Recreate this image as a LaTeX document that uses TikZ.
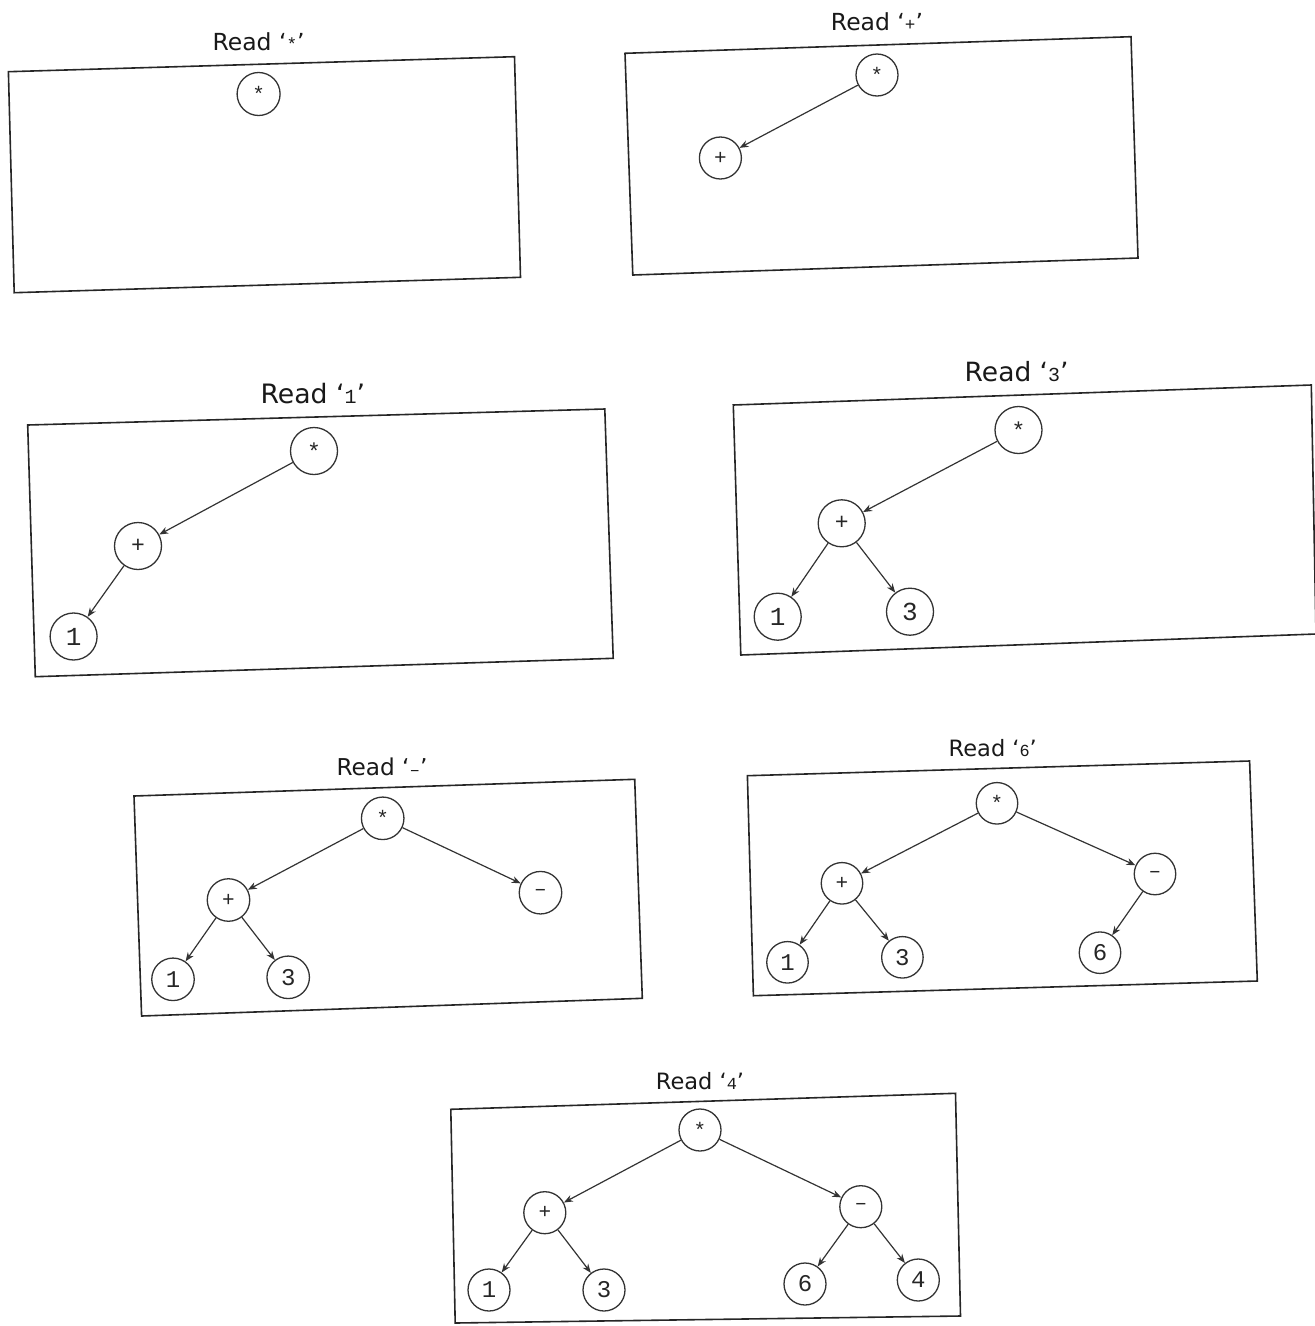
\documentclass[tikz,border=0pt]{standalone}
\usepackage{fontspec}
\setmainfont{DejaVu Sans}
\newfontfamily\nodemono{Liberation Mono}
\newfontfamily\quotemono[Scale=0.75]{Liberation Mono}
\usetikzlibrary{arrows.meta}

% title of a panel: "Read 'x'" with x in typewriter
\newcommand\readlabel[1]{Read ‘{\quotemono #1}’}
% operator glyphs sit a little lower so they are centred in the circle
\newcommand\opglyph[1]{\raisebox{-0.18em}{#1}}

\tikzset{
  frame/.style={line width=1.6pt, draw=black!85, line join=miter},
  vx/.style={circle, draw=black!80, line width=1.3pt, inner sep=0pt,
    minimum size=#1, text=black!85},
  opf/.style={font=\nodemono\fontsize{#1}{#1}\selectfont},
  numf/.style={font=\nodemono\fontsize{#1}{#1}\selectfont},
  ttl/.style={font=\fontsize{#1}{#1}\selectfont, text=black!90, inner sep=0pt},
  edge/.style={line width=1.2pt, draw=black!80, -{Stealth[length=9pt,width=7pt]}},
}

\begin{document}
\begin{tikzpicture}[x=1pt,y=-1pt]
\useasboundingbox (0,0) rectangle (1315,1326);

% ---------- panel 1 ----------
\draw[frame] (8.4,71.7) -- (514.5,56.7) -- (520.5,277.3) -- (14.2,292.7) -- cycle;
\node[ttl=23.5] (t1) at (258.6,41.7) {\readlabel{*}};
\node[vx=43, opf=21] (p1mul) at (258.6,94) {\opglyph{*}};

% ---------- panel 2 ----------
\draw[frame] (625,53.3) -- (1131,36.7) -- (1138,258) -- (632.8,275) -- cycle;
\node[ttl=23.5] (t2) at (877,21.7) {\readlabel{+}};
\node[vx=42, opf=21] (p2mul) at (877,75) {\opglyph{*}};
\node[vx=42, opf=21] (p2add) at (720.4,158) {+};
\draw[edge] (p2mul) -- (p2add);

% ---------- panel 3 ----------
\draw[frame] (27.7,425) -- (604.8,409) -- (613.2,658.3) -- (35.3,676.7) -- cycle;
\node[ttl=26.7] (t3) at (312.8,393.3) {\readlabel{1}};
\node[vx=47, opf=23] (p3mul) at (314,451) {\opglyph{*}};
\node[vx=47, opf=23] (p3add) at (138,546) {+};
\node[vx=47, numf=26] (p3one) at (73.6,636.5) {1};
\draw[edge] (p3mul) -- (p3add);
\draw[edge] (p3add) -- (p3one);

% ---------- panel 4 ----------
\draw[frame] (733.3,405) -- (1311.3,385) -- (1316,634) -- (740.8,655) -- cycle;
\node[ttl=26.5] (t4) at (1016.6,371.7) {\readlabel{3}};
\node[vx=47, opf=23] (p4mul) at (1018.5,430) {\opglyph{*}};
\node[vx=47, opf=23] (p4add) at (841.7,523.3) {+};
\node[vx=47, numf=26] (p4one) at (777.7,616.7) {1};
\node[vx=47, numf=26] (p4three) at (910,611.7) {3};
\draw[edge] (p4mul) -- (p4add);
\draw[edge] (p4add) -- (p4one);
\draw[edge] (p4add) -- (p4three);

% ---------- panel 5 ----------
\draw[frame] (134,796) -- (634.7,779.3) -- (642.3,998.3) -- (141.6,1016) -- cycle;
\node[ttl=23.2] (t5) at (382,766.7) {\readlabel{–}};
\node[vx=42.5, opf=21] (p5mul) at (382.7,818.3) {\opglyph{*}};
\node[vx=42.5, opf=21] (p5add) at (228.5,900) {+};
\node[vx=42.5, opf=21] (p5sub) at (540.5,892.7) {–};
\node[vx=42.5, numf=24] (p5one) at (173,979.3) {1};
\node[vx=42.5, numf=24] (p5three) at (288.2,977.3) {3};
\draw[edge] (p5mul) -- (p5add);
\draw[edge] (p5mul) -- (p5sub);
\draw[edge] (p5add) -- (p5one);
\draw[edge] (p5add) -- (p5three);

% ---------- panel 6 ----------
\draw[frame] (747.4,775.7) -- (1249.6,761) -- (1257.3,981) -- (753.4,995.7) -- cycle;
\node[ttl=22.5] (t6) at (992.8,748.3) {\readlabel{6}};
\node[vx=41.5, opf=21] (p6mul) at (997,803.3) {\opglyph{*}};
\node[vx=41.5, opf=21] (p6add) at (842,883.3) {+};
\node[vx=41.5, opf=21] (p6sub) at (1155,874) {–};
\node[vx=41.5, numf=24] (p6one) at (787.5,962.3) {1};
\node[vx=41.5, numf=24] (p6three) at (902.4,957.3) {3};
\node[vx=41.5, numf=24] (p6six) at (1100,952.7) {6};
\draw[edge] (p6mul) -- (p6add);
\draw[edge] (p6mul) -- (p6sub);
\draw[edge] (p6add) -- (p6one);
\draw[edge] (p6add) -- (p6three);
\draw[edge] (p6sub) -- (p6six);

% ---------- panel 7 ----------
\draw[frame] (450.8,1109.3) -- (955.5,1093.3) -- (960.5,1316) -- (455.2,1323) -- cycle;
\node[ttl=22.5] (t7) at (700,1080.7) {\readlabel{4}};
\node[vx=42, opf=21] (p7mul) at (700,1130) {\opglyph{*}};
\node[vx=42, opf=21] (p7add) at (544.8,1212.7) {+};
\node[vx=42, opf=21] (p7sub) at (860.8,1206.7) {–};
\node[vx=42, numf=24] (p7one) at (489,1290) {1};
\node[vx=42, numf=24] (p7three) at (604,1290) {3};
\node[vx=42, numf=24] (p7six) at (805,1284) {6};
\node[vx=42, numf=24] (p7four) at (918.3,1280) {4};
\draw[edge] (p7mul) -- (p7add);
\draw[edge] (p7mul) -- (p7sub);
\draw[edge] (p7add) -- (p7one);
\draw[edge] (p7add) -- (p7three);
\draw[edge] (p7sub) -- (p7six);
\draw[edge] (p7sub) -- (p7four);
\end{tikzpicture}
\end{document}
